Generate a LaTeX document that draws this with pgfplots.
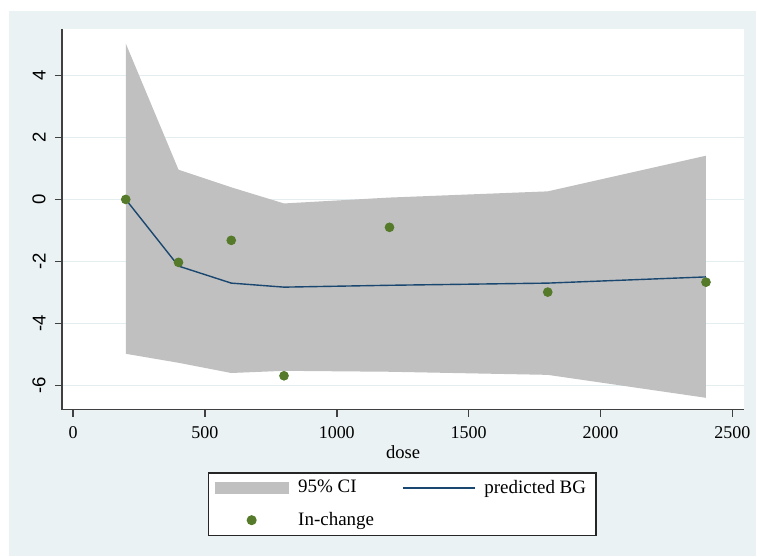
\documentclass[border=0pt]{standalone}
\usepackage{fontspec}
\setmainfont{Liberation Serif}
\newfontfamily\ysans{Liberation Sans}
\usepackage{pgfplots}
\pgfplotsset{compat=1.18}
\definecolor{bgc}{HTML}{EAF2F3}
\definecolor{gridc}{HTML}{E4EDEF}
\definecolor{cigray}{HTML}{C0C0C0}
\definecolor{predblue}{HTML}{1A476F}
\definecolor{dotgreen}{HTML}{557A2A}
\pgfplotsset{
  ciimg/.style={legend image code/.code={\fill[cigray] (0pt,-3pt) rectangle (37pt,3pt); \path (39.5pt,0pt);}},
  lineimg/.style={legend image code/.code={\draw[##1] (0pt,0pt) -- (36pt,0pt); \path (38.5pt,0pt);}},
  dotimg/.style={legend image code/.code={\draw[mark repeat=2,mark phase=2,##1] plot coordinates {(0pt,0pt) (18.5pt,0pt) (37pt,0pt)}; \path (39.5pt,0pt);}},
}
\begin{document}
\begin{tikzpicture}
\fill[white] (0,0) rectangle (378.5pt,278.5pt);
\fill[bgc] (4.5pt,0) rectangle (378.5pt,273pt);
\begin{axis}[
  at={(31pt,73.5pt)}, anchor=south west,
  scale only axis, width=341.5pt, height=190.5pt,
  xmin=-42, xmax=2545, ymin=-6.78, ymax=5.5,
  axis background/.style={fill=white},
  axis x line*=bottom, axis y line*=left,
  axis line style={draw=black!75, line width=0.75pt, -},
  xtick={0,500,1000,1500,2000,2500},
  ytick={-6,-4,-2,0,2,4},
  tick align=outside, major tick length=3.5pt,
  tick style={draw=black!75, line width=0.75pt},
  /pgf/number format/assume math mode=true,
  /pgf/number format/1000 sep={},
  xticklabel style={font=\fontsize{9}{10}\selectfont, yshift=-1.5pt},
  yticklabel style={font=\ysans\fontsize{9.3}{10}\selectfont, rotate=90, anchor=south, inner sep=4.5pt},
  ymajorgrids, grid style={draw=gridc, line width=0.6pt},
  xlabel={dose}, xlabel style={font=\fontsize{9.3}{10}\selectfont, yshift=3.5pt},
  legend columns=2,
  legend style={at={(0.499,-0.165)}, anchor=north, draw=black!85, line width=0.6pt,
    fill=white, font=\fontsize{9.5}{11}\selectfont, row sep=4pt,
    inner xsep=3pt, inner ysep=1.5pt,
    /tikz/every even column/.append style={column sep=12pt}},
  legend cell align=left,
]
\addplot[fill=cigray, draw=none, ciimg]
  coordinates {(200,5.03) (400,0.96) (600,0.39) (800,-0.13) (1200,0.06) (1800,0.26) (2400,1.41)
               (2400,-6.4) (1800,-5.66) (1200,-5.56) (800,-5.53) (600,-5.6) (400,-5.27) (200,-4.98)} -- cycle;
\addlegendentry{95\% CI}
\addplot[predblue, line width=0.7pt, lineimg]
  coordinates {(200,0) (400,-2.15) (600,-2.7) (800,-2.83) (1200,-2.77) (1800,-2.7) (2400,-2.5)};
\addlegendentry{predicted BG}
\addplot[only marks, mark=*, mark size=2.2pt, color=dotgreen, dotimg]
  coordinates {(200,0) (400,-2.03) (600,-1.32) (800,-5.69) (1200,-0.9) (1800,-2.99) (2400,-2.67)};
\addlegendentry{In-change}
\end{axis}
\end{tikzpicture}
\end{document}
